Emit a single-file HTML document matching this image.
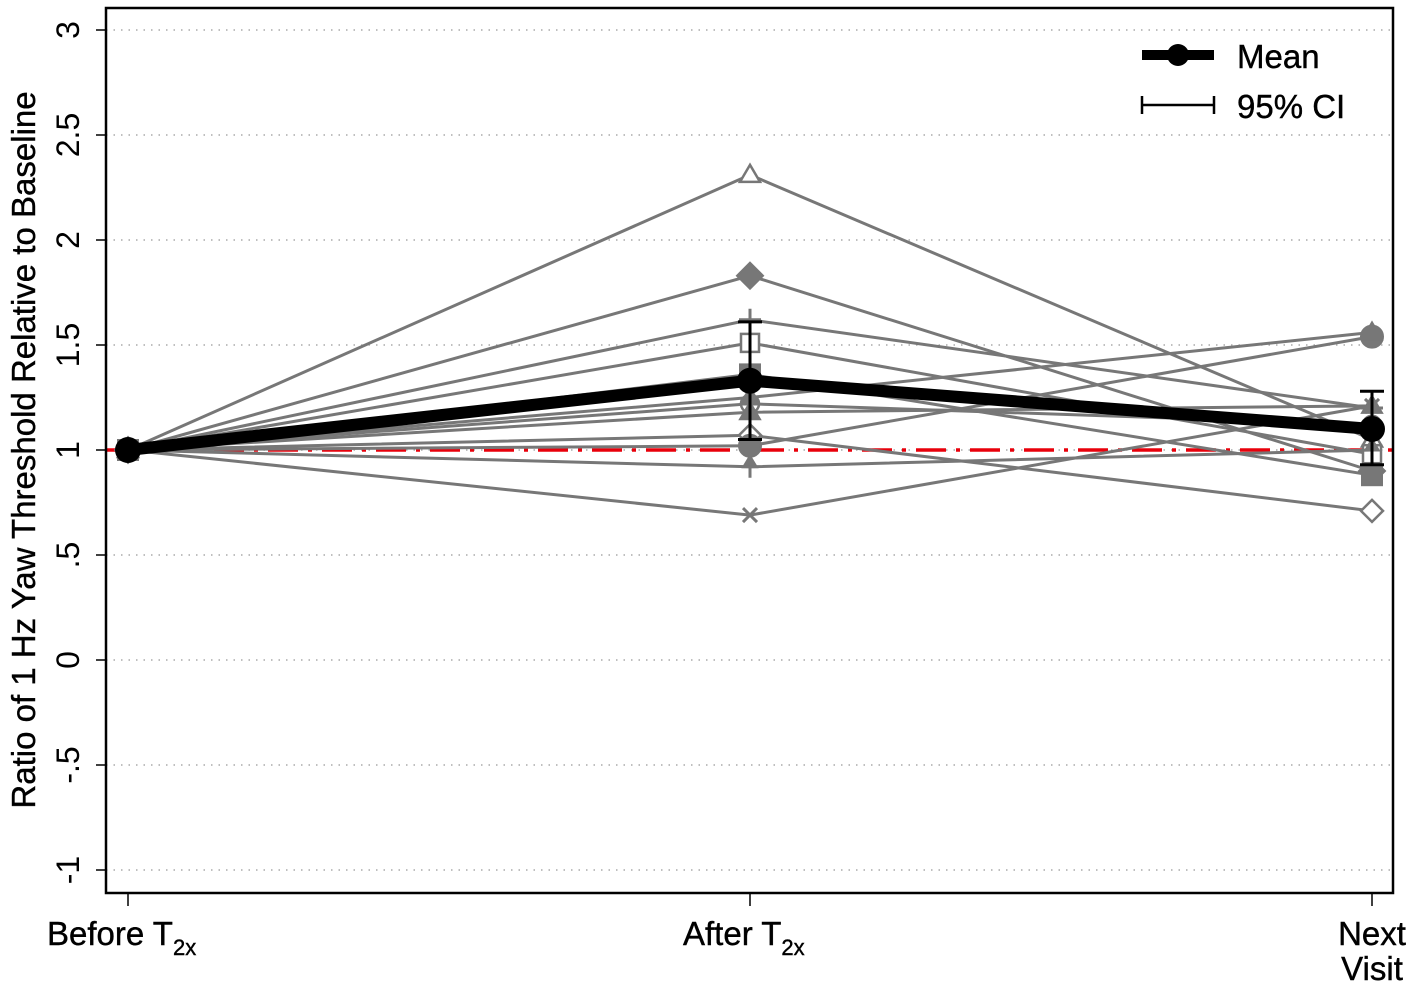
<!DOCTYPE html>
<html><head><meta charset="utf-8"><style>
html,body{margin:0;padding:0;background:#fff;}
svg{display:block;font-family:"Liberation Sans",Arial,sans-serif;}
</style></head><body>
<svg id="chart" width="1417" height="991" viewBox="0 0 1417 991"></svg>
<script>
const categories = ["Before", "After", "Next"];
const yTicks = [3, 2.5, 2, 1.5, 1, 0.5, 0, -0.5, -1];
const yTickLabels = ["3", "2.5", "2", "1.5", "1", ".5", "0", "-.5", "-1"];
const markers = ["triH","diaF","plus","sqH","sqF","circH","triF","diaH","circF","arrow","x","triF2"];
const subjAfter = [2.31, 1.83, 1.62, 1.51, 1.36, 1.22, 1.18, 1.07, 1.02, 0.92, 0.69, 1.25];
const subjNext  = [1.05, 0.90, 1.20, 0.98, 0.88, 1.12, 1.21, 0.71, 1.54, 1.00, 1.21, 1.56];
const meanVals = [1.0, 1.33, 1.10];
const ciLow = [1.0, 1.05, 0.93];
const ciHigh = [1.0, 1.61, 1.28];

const NS = "http://www.w3.org/2000/svg";
const svg = document.getElementById("chart");
const X0 = 128, X1 = 1372;
function xs(i){ return X0 + (X1 - X0) * i / (categories.length - 1); }
function ys(v){ return 450 - (v - 1) * 210; }
function mk(tag, attrs, parent){
  const e = document.createElementNS(NS, tag);
  for (const k in attrs) e.setAttribute(k, attrs[k]);
  (parent || svg).appendChild(e);
  return e;
}
yTicks.forEach((t, i) => {
  const g = mk("line", {x1:106, x2:1393, y1:ys(t), y2:ys(t), stroke:"#aaa", "stroke-width":1.5, "stroke-dasharray":"1.5 6"});
  
  
  const tk = mk("line", {x1:96, x2:106, y1:ys(t), y2:ys(t), stroke:"#000", "stroke-width":1.5});
  
  
  const lb = mk("text", {x:0, y:0, transform:`translate(79 ${ys(t)}) rotate(-90)`, "text-anchor":"middle", "font-size":32});
  lb.textContent = yTickLabels[i];
  
  
});
const ref = mk("line", {x1:106, x2:1393, y1:ys(1), y2:ys(1), stroke:"#e8000b", "stroke-width":3.5, "stroke-dasharray":"30 10 4 10"});



function marker(type, cx, cy, parent){
  const c = "#777", s = 10;
  let e;
  const filled = {fill:c, stroke:c, "stroke-width":2};
  const hollow = {fill:"#fff", stroke:c, "stroke-width":2.5};
  switch(type){
    case "triH": e = mk("polygon",{points:`${cx},${cy-s} ${cx-s},${cy+s*0.7} ${cx+s},${cy+s*0.7}`,...hollow},parent); break;
    case "triF": case "triF2": e = mk("polygon",{points:`${cx},${cy-s} ${cx-s},${cy+s*0.7} ${cx+s},${cy+s*0.7}`,...filled},parent); break;
    case "diaF": e = mk("polygon",{points:`${cx},${cy-13} ${cx+13},${cy} ${cx},${cy+13} ${cx-13},${cy}`,...filled},parent); break;
    case "diaH": e = mk("polygon",{points:`${cx},${cy-11} ${cx+11},${cy} ${cx},${cy+11} ${cx-11},${cy}`,...hollow},parent); break;
    case "sqH": e = mk("rect",{x:cx-9,y:cy-9,width:18,height:18,...hollow},parent); break;
    case "sqF": e = mk("rect",{x:cx-10,y:cy-10,width:20,height:20,...filled},parent); break;
    case "circH": e = mk("circle",{cx:cx,cy:cy,r:9,...hollow},parent); break;
    case "circF": e = mk("circle",{cx:cx,cy:cy,r:11,...filled},parent); break;
    case "plus": e = mk("path",{d:`M${cx-11} ${cy}H${cx+11}M${cx} ${cy-11}V${cy+11}`,stroke:c,"stroke-width":3,fill:"none"},parent); break;
    case "x": e = mk("path",{d:`M${cx-7} ${cy-7}L${cx+7} ${cy+7}M${cx-7} ${cy+7}L${cx+7} ${cy-7}`,stroke:c,"stroke-width":3,fill:"none"},parent); break;
    case "arrow": e = mk("path",{d:`M${cx} ${cy-10}L${cx-6} ${cy}H${cx+6}Z M${cx} ${cy}V${cy+11}`,stroke:c,"stroke-width":3,fill:c},parent); break;
  }
  return e;
}
subjAfter.forEach((a, i) => {
  const g = mk("g", {});
  
  
  const vals = [1, a, subjNext[i]];
  const pts = vals.map((v, j) => `${xs(j)},${ys(v)}`).join(" ");
  mk("polyline", {points:pts, fill:"none", stroke:"#777", "stroke-width":3}, g);
  vals.forEach((v, j) => {
    const m = marker(markers[i], xs(j), ys(v), g);
    
    
  });
});
meanVals.forEach((m, j) => {
  if (ciHigh[j] === ciLow[j]) return;
  const g = mk("g", {stroke:"#000", "stroke-width":3});
  
  
  const x = xs(j);
  mk("line", {x1:x, x2:x, y1:ys(ciHigh[j]), y2:ys(ciLow[j])}, g);
  mk("line", {x1:x-12, x2:x+12, y1:ys(ciHigh[j]), y2:ys(ciHigh[j])}, g);
  mk("line", {x1:x-12, x2:x+12, y1:ys(ciLow[j]), y2:ys(ciLow[j])}, g);
});
const mg = mk("g", {});


mk("polyline", {points: meanVals.map((v,j)=>`${xs(j)},${ys(v)}`).join(" "), fill:"none", stroke:"#000", "stroke-width":12, "stroke-linejoin":"round"}, mg);
meanVals.forEach((v, j) => {
  const c = mk("circle", {cx:xs(j), cy:ys(v), r:13, fill:"#000"}, mg);
  
  
});
const fr = mk("rect", {x:106, y:8, width:1287, height:885, fill:"none", stroke:"#000", "stroke-width":2.5});


categories.forEach((c, j) => {
  const t = mk("line", {x1:xs(j), x2:xs(j), y1:893, y2:906, stroke:"#000", "stroke-width":1.5});
  
  
});
</script>
<svg style="position:absolute;left:0;top:0" width="1417" height="991">
  <text x="47" y="945" font-size="33" font-family="Liberation Sans, sans-serif" stroke="#000" stroke-width="0.4">Before T<tspan font-size="22" dy="10">2x</tspan></text>
  <text x="683" y="945" font-size="33" font-family="Liberation Sans, sans-serif" stroke="#000" stroke-width="0.4">After T<tspan font-size="22" dy="10">2x</tspan></text>
  <text x="1372" y="945" font-size="33" text-anchor="middle" font-family="Liberation Sans, sans-serif" stroke="#000" stroke-width="0.4">Next</text>
  <text x="1372" y="980" font-size="33" text-anchor="middle" font-family="Liberation Sans, sans-serif" stroke="#000" stroke-width="0.4">Visit</text>
  <text transform="translate(35 450) rotate(-90)" text-anchor="middle" font-size="33" font-family="Liberation Sans, sans-serif" stroke="#000" stroke-width="0.4">Ratio of 1 Hz Yaw Threshold Relative to Baseline</text>
  <g>
    <line x1="1142" x2="1214" y1="55" y2="55" stroke="#000" stroke-width="10"/>
    <circle cx="1178" cy="55" r="11" fill="#000"/>
    <text x="1237" y="68" font-size="33" font-family="Liberation Sans, sans-serif" stroke="#000" stroke-width="0.4">Mean</text>
    <path d="M1142 105H1214M1142 96V114M1214 96V114" stroke="#000" stroke-width="2.5" fill="none"/>
    <text x="1237" y="118" font-size="33" font-family="Liberation Sans, sans-serif" stroke="#000" stroke-width="0.4">95% CI</text>
  </g>
</svg>
</body></html>
